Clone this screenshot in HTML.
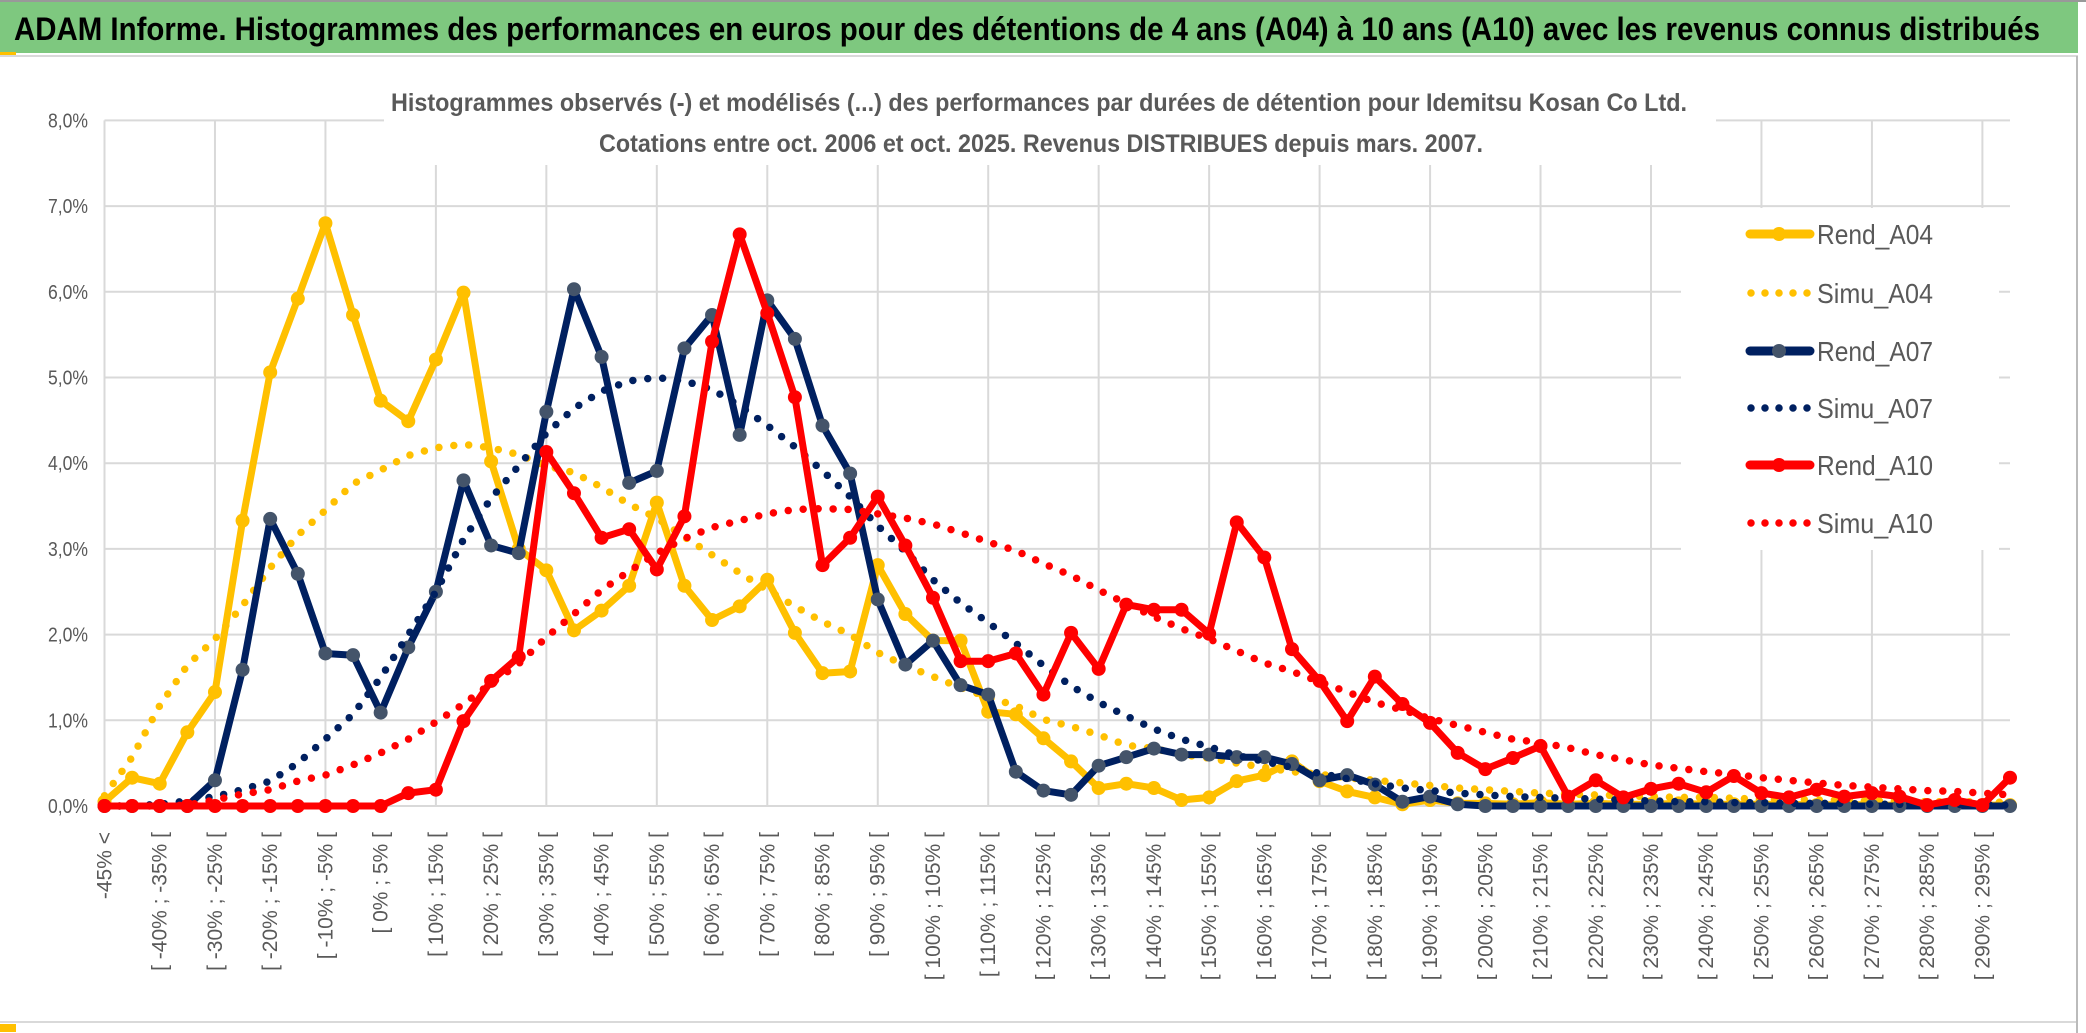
<!DOCTYPE html>
<html><head><meta charset="utf-8"><style>
html,body{margin:0;padding:0;background:#fff;}
svg{display:block;font-family:"Liberation Sans",sans-serif;}
</style></head><body>
<svg id="chart" width="2086" height="1033" viewBox="0 0 2086 1033" xmlns="http://www.w3.org/2000/svg">
<rect x="0" y="0" width="2086" height="1033" fill="#fff"/>
<rect x="0" y="2" width="2078" height="51" fill="#7EC87F"/>
<line x1="0" y1="1" x2="2086" y2="1" stroke="#999" stroke-width="2"/>
<rect x="0" y="52" width="16" height="4" fill="#FFC000"/>
<line x1="0" y1="56" x2="2078" y2="56" stroke="#d9d9d9" stroke-width="2"/>
<line x1="0" y1="1022" x2="2078" y2="1022" stroke="#d9d9d9" stroke-width="2"/>
<rect x="0" y="1024" width="16" height="8" fill="#FFC000"/>
<line x1="2077" y1="56" x2="2077" y2="1033" stroke="#bbb" stroke-width="2"/>
<text x="14" y="40" font-size="32" font-weight="bold" fill="#000" textLength="2026" lengthAdjust="spacingAndGlyphs">ADAM Informe. Histogrammes des performances en euros pour des détentions de 4 ans (A04) à 10 ans (A10) avec les revenus connus distribués</text>
<g id="grid"></g>
<g id="series"></g>
<rect x="384" y="88" width="1332" height="77" fill="#fff"/>
<text x="391" y="111" font-size="25" font-weight="bold" fill="#595959" textLength="1296" lengthAdjust="spacingAndGlyphs">Histogrammes observés (-) et modélisés (...) des performances par durées de détention pour Idemitsu Kosan Co Ltd.</text>
<text x="599" y="152" font-size="25" font-weight="bold" fill="#595959" textLength="884" lengthAdjust="spacingAndGlyphs">Cotations entre oct. 2006 et oct. 2025. Revenus DISTRIBUES depuis mars. 2007.</text>
<g id="yaxis"></g>
<g id="xaxis"></g>
<rect x="1681" y="208" width="318" height="342" fill="#fff"/>
<g id="legend"></g>
</svg>
<script>
const yTicks = [0,1,2,3,4,5,6,7,8];
const yTickLabels = ["0,0%","1,0%","2,0%","3,0%","4,0%","5,0%","6,0%","7,0%","8,0%"];
const seriesNames = ["Rend_A04","Simu_A04","Rend_A07","Simu_A07","Rend_A10","Simu_A10"];
const rendA04 = [0.05,0.33,0.26,0.86,1.33,3.33,5.06,5.92,6.80,5.73,4.73,4.49,5.21,5.99,4.02,3.00,2.75,2.05,2.28,2.57,3.54,2.57,2.17,2.33,2.64,2.02,1.55,1.57,2.81,2.24,1.93,1.93,1.10,1.07,0.79,0.52,0.21,0.26,0.21,0.07,0.10,0.29,0.36,0.52,0.29,0.17,0.10,0.02,0.07,0.03,0.03,0.02,0.04,0.02,0.03,0.02,0.02,0.03,0.02,0.02,0.02,0.02,0.01,0.02,0.01,0.01,0.01,0.01,0.01,0.01];
const simuA04 = [0.12,0.57,1.17,1.64,1.95,2.34,2.78,3.16,3.45,3.76,3.92,4.09,4.18,4.22,4.18,4.10,3.97,3.89,3.72,3.52,3.36,3.14,2.93,2.72,2.52,2.33,2.15,2.00,1.79,1.64,1.51,1.38,1.27,1.17,1.01,0.93,0.83,0.71,0.67,0.60,0.56,0.50,0.45,0.40,0.37,0.33,0.30,0.27,0.24,0.21,0.19,0.17,0.15,0.14,0.13,0.12,0.11,0.10,0.10,0.09,0.08,0.08,0.07,0.07,0.06,0.06,0.05,0.05,0.05,0.04];
const rendA07 = [0,0,0,0,0.30,1.59,3.35,2.71,1.78,1.76,1.09,1.85,2.50,3.80,3.04,2.95,4.60,6.03,5.24,3.77,3.91,5.34,5.73,4.33,5.90,5.45,4.44,3.88,2.41,1.65,1.93,1.41,1.30,0.40,0.18,0.13,0.47,0.57,0.67,0.60,0.60,0.57,0.57,0.49,0.30,0.36,0.25,0.05,0.11,0.02,0,0,0,0,0,0,0,0,0,0,0,0,0,0,0,0,0,0,0,0];
const simuA07 = [0,0,0.02,0.06,0.11,0.19,0.29,0.50,0.78,1.07,1.50,2.00,2.50,3.11,3.59,3.97,4.35,4.64,4.84,4.96,5.00,4.96,4.86,4.67,4.44,4.19,3.91,3.61,3.27,2.97,2.64,2.37,2.14,1.90,1.64,1.40,1.21,1.05,0.90,0.78,0.69,0.59,0.52,0.45,0.38,0.32,0.26,0.21,0.18,0.15,0.13,0.11,0.10,0.09,0.08,0.07,0.06,0.05,0.05,0.04,0.04,0.03,0.03,0.03,0.02,0.02,0.02,0.02,0.01,0.01];
const rendA10 = [0,0,0,0,0,0,0,0,0,0,0,0.15,0.19,0.99,1.46,1.74,4.13,3.65,3.13,3.23,2.76,3.38,5.42,6.67,5.75,4.77,2.81,3.13,3.61,3.04,2.43,1.69,1.69,1.78,1.30,2.02,1.60,2.35,2.29,2.29,2.01,3.31,2.90,1.83,1.46,0.99,1.51,1.19,0.97,0.62,0.43,0.56,0.70,0.11,0.30,0.10,0.20,0.26,0.16,0.35,0.15,0.10,0.19,0.11,0.15,0.11,0.01,0.07,0.01,0.33];
const simuA10 = [0,0,0,0.01,0.07,0.14,0.19,0.29,0.36,0.48,0.62,0.78,0.98,1.19,1.43,1.66,1.97,2.24,2.52,2.74,2.95,3.12,3.25,3.33,3.41,3.46,3.47,3.46,3.41,3.36,3.29,3.19,3.08,2.98,2.83,2.69,2.52,2.36,2.21,2.07,1.95,1.81,1.67,1.57,1.45,1.33,1.21,1.12,1.02,0.94,0.86,0.78,0.74,0.68,0.60,0.54,0.48,0.44,0.40,0.37,0.33,0.30,0.27,0.24,0.22,0.20,0.18,0.17,0.15,0.13];
const categories = ["-45% <"];
for (let a = -45; a <= 295; a += 5) categories.push("[ " + a + "% ; " + (a + 5) + "% [");

const NS = "http://www.w3.org/2000/svg";
const X0 = 104.5, X1 = 2010, Y0 = 806, YTOP = 120.4;
function xPos(i){ return X0 + (X1 - X0) * i / (categories.length - 1); }
function yPos(v){ return Y0 - (Y0 - YTOP) * v / 8; }
function mk(tag, attrs, parent){ const e = document.createElementNS(NS, tag); for (const k in attrs) e.setAttribute(k, attrs[k]); parent.appendChild(e); return e; }

const grid = document.getElementById("grid");
yTicks.forEach(function(t){
  const l = mk("line", {x1: X0, x2: X1, y1: yPos(t), y2: yPos(t), stroke: "#d9d9d9", "stroke-width": 2}, grid);
  
  
});
for (let i = 0; i < categories.length; i += 4) {
  const l = mk("line", {x1: xPos(i), x2: xPos(i), y1: yPos(8), y2: Y0, stroke: "#d9d9d9", "stroke-width": 2}, grid);
  
  
}
const yaxis = document.getElementById("yaxis");
yTicks.forEach(function(t, k){
  const tx = mk("text", {x: 88, y: yPos(t) + 7, "font-size": 20, fill: "#595959", "text-anchor": "end", textLength: 40, lengthAdjust: "spacingAndGlyphs"}, yaxis);
  tx.textContent = yTickLabels[k];
  
  
});
const xaxis = document.getElementById("xaxis");
categories.forEach(function(c, i){
  if (i % 2 !== 0) return;
  const x = xPos(i) + 7, y = 832;
  const tx = mk("text", {x: x, y: y, "font-size": 21, fill: "#595959", "text-anchor": "end", transform: "rotate(-90 " + x + " " + y + ")"}, xaxis);
  tx.textContent = c;
  
  
});

const series = document.getElementById("series");
const seriesData = [rendA04, simuA04, rendA07, simuA07, rendA10, simuA10];
const colors = ["#FFC000","#FFC000","#002060","#002060","#FF0000","#FF0000"];
const markerColors = ["#FFC000",null,"#44546A",null,"#FF0000",null];
seriesData.forEach(function(vals, s){
  const pts = vals.map(function(v, i){ return xPos(i).toFixed(1) + "," + yPos(v).toFixed(1); }).join(" ");
  const dotted = s % 2 === 1;
  const pl = mk("polyline", {points: pts, fill: "none", stroke: colors[s], "stroke-width": dotted ? 7.5 : 7, "stroke-linejoin": "round", "stroke-linecap": "round"}, series);
  if (dotted) pl.setAttribute("stroke-dasharray", "0 15");
  
  
  if (!dotted) {
    vals.forEach(function(v, i){
      const c = mk("circle", {cx: xPos(i), cy: yPos(v), r: 7, fill: markerColors[s]}, series);
      
      
    });
  }
});

const legend = document.getElementById("legend");
const legendYs = [234, 293, 351, 408, 465, 523];
seriesNames.forEach(function(n, s){
  const y = legendYs[s];
  const g = mk("g", {}, legend);
  
  
  if (s % 2 === 0) {
    mk("line", {x1: 1750, x2: 1810, y1: y, y2: y, stroke: colors[s], "stroke-width": 9, "stroke-linecap": "round"}, g);
    mk("circle", {cx: 1779, cy: y, r: 7, fill: markerColors[s]}, g);
  } else {
    mk("line", {x1: 1751, x2: 1812, y1: y, y2: y, stroke: colors[s], "stroke-width": 7.5, "stroke-linecap": "round", "stroke-dasharray": "0 14"}, g);
  }
  const t = mk("text", {x: 1817, y: y + 10, "font-size": 28, fill: "#595959", textLength: 116, lengthAdjust: "spacingAndGlyphs"}, g);
  t.textContent = n;
});
</script>
</body></html>
